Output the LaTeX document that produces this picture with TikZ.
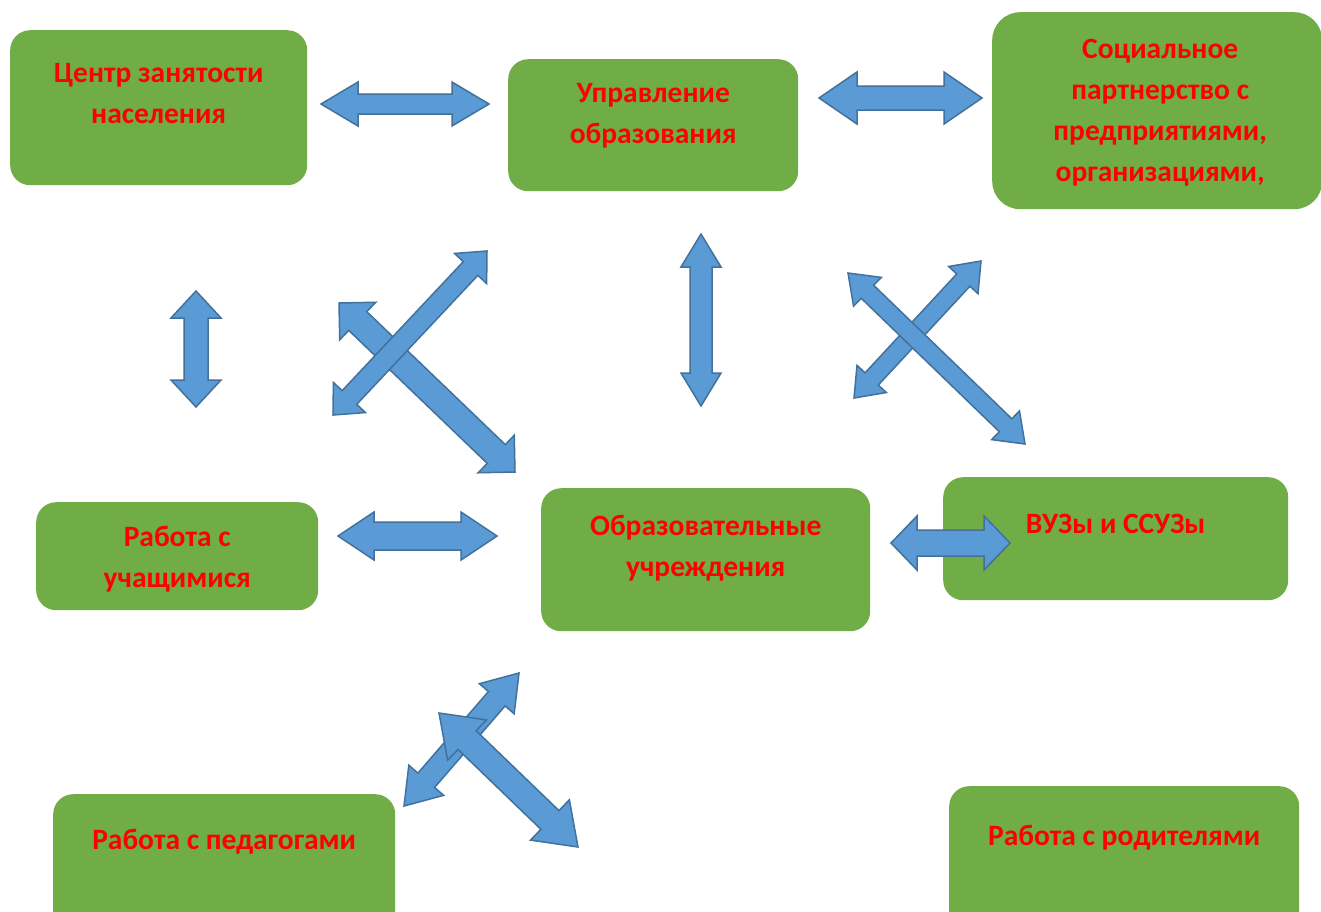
\documentclass[tikz,border=0pt]{standalone}
\usepackage{fontspec}
\setmainfont{Carlito}
\usetikzlibrary{calc,positioning}
\definecolor{boxgreen}{HTML}{70AD47}
\definecolor{arrowblue}{HTML}{5B9BD5}
\definecolor{arrowedge}{HTML}{41719C}
\definecolor{txtred}{HTML}{FF0000}

\tikzset{
  box/.style={fill=boxgreen, rounded corners=20pt, inner sep=0pt, anchor=north west},
  lbl/.style={text=txtred, font=\fontsize{29.5}{41}\selectfont\bfseries, align=center, inner sep=0pt},
  blockarrow/.style={fill=arrowblue, draw=arrowedge, line width=1.5pt, line join=miter}
}

% block double arrow: ends, shaft half width, head half width, head length
\newcommand{\dblarrow}[5]{%
  \coordinate (ha) at ($(#1)!#5pt!(#2)$);
  \coordinate (hb) at ($(#2)!#5pt!(#1)$);
  \filldraw[blockarrow] (#1) -- ($(ha)!#4pt!90:(#2)$) -- ($(ha)!#3pt!90:(#2)$)
    -- ($(hb)!#3pt!-90:(#1)$) -- ($(hb)!#4pt!-90:(#1)$) -- (#2)
    -- ($(hb)!#4pt!90:(#1)$) -- ($(hb)!#3pt!90:(#1)$)
    -- ($(ha)!#3pt!-90:(#2)$) -- ($(ha)!#4pt!-90:(#2)$) -- cycle;
}

\begin{document}
\begin{tikzpicture}[x=1pt,y=-1pt]
  \clip (0,0) rectangle (1321,911);
  \fill[white] (0,0) rectangle (1321,911);

  % boxes
  \node[box, minimum width=297pt, minimum height=155pt] (czn) at (10,30) {};
  \node[box, minimum width=290pt, minimum height=132pt] (uo) at (508,59) {};
  \node[box, minimum width=330pt, minimum height=197pt, rounded corners=28pt] (sp) at (992,12) {};
  \node[box, minimum width=282pt, minimum height=108pt] (ru) at (36,502) {};
  \node[box, minimum width=329pt, minimum height=143pt] (ou) at (541,488) {};
  \node[box, minimum width=345pt, minimum height=123pt] (vuz) at (943,477) {};
  \node[box, minimum width=342pt, minimum height=140pt] (rp) at (53,794) {};
  \node[box, minimum width=350pt, minimum height=150pt] (rr) at (949,786) {};

  % texts
  \node[lbl] (czn-t) at ($(czn.north)+(0,64)$) {Центр занятости\\населения};
  \node[lbl] (uo-t) at ($(uo.north)+(0,57)$) {Управление\\образования};
  \node[lbl] (sp-t) at ($(sp.north)+(3,101)$) {Социальное\\партнерство с\\предприятиями,\\организациями,};
  \node[lbl] (ru-t) at ($(ru.north)+(0,57)$) {Работа с\\учащимися};
  \node[lbl] (ou-t) at ($(ou.north)+(0,60)$) {Образовательные\\учреждения};
  \node[lbl] (vuz-t) at ($(vuz.north)+(0,47)$) {ВУЗы и ССУЗы};
  \node[lbl] (rp-t) at ($(rp.north)+(0,48)$) {Работа с педагогами};
  \node[lbl] (rr-t) at ($(rr.north)+(0,52)$) {Работа с родителями};

  % arrow ends
  \coordinate (a1l) at (321,104);  \coordinate (a1r) at (489,104);
  \coordinate (a2l) at (819,98);   \coordinate (a2r) at (982,98);
  \coordinate (a3t) at (196,291);  \coordinate (a3b) at (196,407);
  \coordinate (a4t) at (701,234);  \coordinate (a4b) at (701,406);
  \coordinate (a5t) at (487,251);  \coordinate (a5b) at (333,415);
  \coordinate (a6t) at (339,303);  \coordinate (a6b) at (515,472);
  \coordinate (a7t) at (848,273);  \coordinate (a7b) at (1025,444);
  \coordinate (a8t) at (981,261);  \coordinate (a8b) at (854,398);
  \coordinate (a9l) at (891,543);  \coordinate (a9r) at (1010,543);
  \coordinate (a10l) at (338,536); \coordinate (a10r) at (497,536);
  \coordinate (a11t) at (519,673); \coordinate (a11b) at (404,806);
  \coordinate (a12t) at (439,713); \coordinate (a12b) at (578,847);

  % arrows
  \dblarrow{a1l}{a1r}{10}{22}{37}
  \dblarrow{a2l}{a2r}{12}{26}{38}
  \dblarrow{a3t}{a3b}{12}{25}{27}
  \dblarrow{a4t}{a4b}{11}{20}{33}
  \dblarrow{a6t}{a6b}{13}{26}{26}
  \dblarrow{a5t}{a5b}{10}{22}{24}
  \dblarrow{a8t}{a8b}{9}{20}{26}
  \dblarrow{a7t}{a7b}{9}{20}{27}
  \dblarrow{a9l}{a9r}{13}{27}{26}
  \dblarrow{a10l}{a10r}{14}{24}{36}
  \dblarrow{a11t}{a11b}{11}{23}{34}
  \dblarrow{a12t}{a12b}{13}{28}{39}
\end{tikzpicture}
\end{document}
